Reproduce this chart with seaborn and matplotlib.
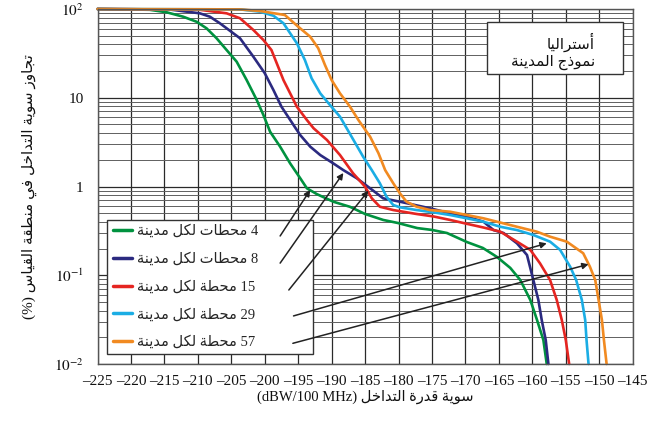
import numpy as np
import pandas as pd
import matplotlib
matplotlib.use("Agg")
import matplotlib.pyplot as plt
import seaborn as sns
from matplotlib.patches import Rectangle
from matplotlib.ticker import FixedLocator, FixedFormatter, MultipleLocator, LogLocator, NullFormatter

# ---------------- data ----------------
green_x = [-225, -217.2, -214.65, -212.2, -210.2, -208.7, -207.2, -205.7, -204.2, -202.7, -201.2, -200.2,
           -199.2, -197.7, -196.2, -194.7, -193.7, -192.2, -189.75, -187.25, -185.0, -182.3, -180.1, -177.2,
           -175.0, -172.75, -169.8, -167.4, -165.3, -163.3, -161.8, -160.3, -159.3, -158.35, -157.85]
green_y = [100, 98, 91.8, 81.9, 71.9, 60.6, 46.8, 34.5, 25.5, 15.8, 9.44, 6.39,
           4.14, 2.81, 1.82, 1.24, 0.954, 0.82, 0.674, 0.59, 0.49, 0.42, 0.388, 0.34,
           0.324, 0.299, 0.237, 0.203, 0.161, 0.121, 0.0883, 0.0526, 0.0313, 0.0186, 0.01]

navy_x = [-225, -214.2, -209.7, -208.2, -206.7, -203.7, -201.7, -200.0, -198.7, -197.5, -195.7, -194.7,
          -193.2, -191.7, -189.75, -188.25, -186.25, -184.25, -182.3, -179.8, -175.3, -172.3, -169.8,
          -167.3, -165.8, -164.3, -162.3, -160.8, -159.85, -159.1, -158.6, -158.0, -157.6]
navy_y = [100, 98.7, 89.4, 81.9, 69.0, 46.8, 29.0, 18.9, 12.2, 7.92, 4.93, 3.80,
          2.81, 2.26, 1.82, 1.53, 1.24, 0.954, 0.736, 0.674, 0.568, 0.499, 0.457,
          0.401, 0.323, 0.299, 0.229, 0.169, 0.0883, 0.0526, 0.0313, 0.0186, 0.01]

red_x = [-225, -209.7, -205.7, -203.7, -201.7, -200.2, -199.0, -198.2, -197.2, -196.2, -195.2, -193.7,
         -192.7, -190.7, -188.75, -186.8, -185.0, -184.0, -182.8, -180.8, -177.3, -174.8, -172.3, -169.8,
         -167.3, -164.8, -162.3, -160.3, -158.85, -157.35, -156.35, -155.6, -155.0, -154.5]
red_y = [100, 98, 89.4, 78.6, 58.0, 44.7, 34.5, 24.4, 15.8, 11.2, 7.92, 5.61,
         4.53, 3.34, 2.26, 1.41, 0.995, 0.736, 0.592, 0.543, 0.49, 0.46, 0.42, 0.38,
         0.345, 0.31, 0.239, 0.193, 0.136, 0.0883, 0.0526, 0.0313, 0.0186, 0.01]

cyan_x = [-225, -203.7, -200.7, -198.7, -197.2, -195.2, -194.0, -193.0, -191.7, -190.25, -188.75, -187.25,
          -185.3, -184.0, -182.8, -181.8, -180.8, -179.8, -177.3, -174.8, -172.3, -169.8, -167.3, -164.8,
          -162.3, -159.85, -157.35, -155.85, -154.35, -153.45, -152.6, -152.1, -151.9, -151.6]
cyan_y = [100, 99, 93.2, 84.0, 69.0, 41.1, 26.6, 16.6, 11.2, 8.28, 6.11, 3.9,
          2.17, 1.53, 1.09, 0.767, 0.619, 0.583, 0.543, 0.512, 0.477, 0.438, 0.401, 0.352,
          0.323, 0.284, 0.239, 0.193, 0.125, 0.0883, 0.0526, 0.0313, 0.0186, 0.01]

orange_x = [-225, -203.7, -200.7, -197.0, -195.0, -193.2, -192.0, -191.0, -190.0, -188.75, -187.25, -186.0,
            -184.25, -183.0, -182.0, -180.8, -179.8, -178.8, -177.3, -175.3, -172.3, -167.3, -162.3,
            -159.35, -157.35, -154.85, -152.4, -151.4, -150.6, -150.1, -149.6, -149.3, -148.9]
orange_y = [100, 99, 94.9, 85.6, 63.2, 48.7, 36.1, 23.4, 15.8, 11.2, 7.92, 5.61,
            3.64, 2.37, 1.53, 1.09, 0.838, 0.674, 0.592, 0.543, 0.520, 0.438, 0.352,
            0.310, 0.272, 0.239, 0.177, 0.125, 0.0883, 0.0526, 0.0313, 0.0186, 0.01]

series_labels = ["4 محطات لكل مدينة", "8 محطات لكل مدينة", "15 محطة لكل مدينة",
                 "29 محطة لكل مدينة", "57 محطة لكل مدينة"]
series_colors = ["#00923f", "#2b2a80", "#e52521", "#1badE4", "#f18a21"]

x_ticks = list(range(-225, -144, 5))
x_tick_labels = ["\u2013" + str(-v) for v in x_ticks]
y_ticks = [0.01, 0.1, 1, 10, 100]
y_tick_labels = ["$10^{-2}$", "$10^{-1}$", "1", "10", "$10^{2}$"]

# arrows: (start x, start y) -> (end x, end y) in data units
arrow_start_x = [-197.7, -197.7, -196.4, -195.7, -195.8]
arrow_start_y = [0.277, 0.137, 0.0682, 0.0348, 0.0171]
arrow_end_x = [-193.2, -188.25, -184.5, -157.85, -151.6]
arrow_end_y = [0.914, 1.42, 0.897, 0.229, 0.133]

box_line1 = "أستراليا"
box_line2 = "نموذج المدينة"
ylabel_text = "تجاوز سوية التداخل في منطقة القياس (%)"
xlabel_ar = "سوية قدرة التداخل"
xlabel_unit = "(dBW/100 MHz)"

# ---------------- Arabic shaping (presentation forms + visual order) ----------------
FORMS = {
    '\u0627': ('\uFE8D', '\uFE8E', None, None),
    '\u0623': ('\uFE83', '\uFE84', None, None),
    '\u0629': ('\uFE93', '\uFE94', None, None),
    '\u062A': ('\uFE95', '\uFE96', '\uFE97', '\uFE98'),
    '\u062C': ('\uFE9D', '\uFE9E', '\uFE9F', '\uFEA0'),
    '\u062D': ('\uFEA1', '\uFEA2', '\uFEA3', '\uFEA4'),
    '\u062E': ('\uFEA5', '\uFEA6', '\uFEA7', '\uFEA8'),
    '\u062F': ('\uFEA9', '\uFEAA', None, None),
    '\u0630': ('\uFEAB', '\uFEAC', None, None),
    '\u0631': ('\uFEAD', '\uFEAE', None, None),
    '\u0632': ('\uFEAF', '\uFEB0', None, None),
    '\u0633': ('\uFEB1', '\uFEB2', '\uFEB3', '\uFEB4'),
    '\u0637': ('\uFEC1', '\uFEC2', '\uFEC3', '\uFEC4'),
    '\u0641': ('\uFED1', '\uFED2', '\uFED3', '\uFED4'),
    '\u0642': ('\uFED5', '\uFED6', '\uFED7', '\uFED8'),
    '\u0643': ('\uFED9', '\uFEDA', '\uFEDB', '\uFEDC'),
    '\u0644': ('\uFEDD', '\uFEDE', '\uFEDF', '\uFEE0'),
    '\u0645': ('\uFEE1', '\uFEE2', '\uFEE3', '\uFEE4'),
    '\u0646': ('\uFEE5', '\uFEE6', '\uFEE7', '\uFEE8'),
    '\u0648': ('\uFEED', '\uFEEE', None, None),
    '\u064A': ('\uFEF1', '\uFEF2', '\uFEF3', '\uFEF4'),
}


def shape_word(w):
    out = []
    n = len(w)
    for i, c in enumerate(w):
        if c not in FORMS:
            out.append(c)
            continue
        iso, fin, ini, med = FORMS[c]
        prev = w[i - 1] if i > 0 else None
        nxt = w[i + 1] if i < n - 1 else None
        jp = prev in FORMS and FORMS[prev][2] is not None
        jn = (nxt in FORMS) and (ini is not None)
        if jp and jn:
            out.append(med)
        elif jp:
            out.append(fin)
        elif jn:
            out.append(ini)
        else:
            out.append(iso)
    return ''.join(out)


def rtl(text):
    toks = text.split(' ')
    vis = []
    for t in reversed(toks):
        if any(ch in FORMS for ch in t):
            vis.append(shape_word(t)[::-1])
        else:
            vis.append(t)
    return ' '.join(vis)


# ---------------- plotting ----------------
sns.set_theme(style="white")
plt.rcParams['font.family'] = ['Liberation Serif', 'DejaVu Sans']
plt.rcParams['mathtext.fontset'] = 'stix'

fig = plt.figure(figsize=(6.52, 4.24), dpi=100)
ax = fig.add_axes([97.5 / 652, (424 - 364) / 424, (632.7 - 97.5) / 652, (364 - 9) / 424])

xs_all = [green_x, navy_x, red_x, cyan_x, orange_x]
ys_all = [green_y, navy_y, red_y, cyan_y, orange_y]
frames = []
for lab, xs, ys in zip(series_labels, xs_all, ys_all):
    frames.append(pd.DataFrame({"x": xs, "y": ys, "series": lab}))
df = pd.concat(frames, ignore_index=True)

sns.lineplot(data=df, x="x", y="y", hue="series", palette=dict(zip(series_labels, series_colors)),
             hue_order=series_labels, sort=False, estimator=None, linewidth=1.9, legend=False, ax=ax)
for ln in ax.get_lines():
    ln.set_clip_on(False)
    ln.set_zorder(2.5)
    ln.set_solid_joinstyle('round')

ax.set_yscale('log')
ax.set_xlim(-225, -145)
ax.set_ylim(0.01, 100)

ax.xaxis.set_major_locator(FixedLocator(x_ticks))
ax.xaxis.set_major_formatter(FixedFormatter(x_tick_labels))
ax.xaxis.set_minor_locator(MultipleLocator(1))
ax.yaxis.set_major_locator(FixedLocator(y_ticks))
ax.yaxis.set_major_formatter(FixedFormatter(y_tick_labels))
ax.yaxis.set_minor_locator(LogLocator(base=10, subs=range(2, 10)))
ax.yaxis.set_minor_formatter(NullFormatter())

ax.grid(which='major', axis='both', color='#2a2a2a', linewidth=0.9)
ax.grid(which='minor', axis='y', color='#606060', linewidth=0.7)
ax.set_axisbelow(True)

ax.tick_params(axis='x', which='major', direction='in', length=3, width=0.8, color='#333',
               labelsize=11, pad=8, labelcolor='#111')
ax.tick_params(axis='x', which='minor', direction='in', length=2.2, width=0.8, color='#333')
ax.tick_params(axis='y', which='both', length=0, labelsize=11, pad=10, labelcolor='#111')
for sp in ax.spines.values():
    sp.set_color('#555555')
    sp.set_linewidth(1.0)

ax.set_ylabel(rtl(ylabel_text), fontsize=11, labelpad=12, color='#111')
ax.set_xlabel(xlabel_unit + " " + rtl(xlabel_ar), fontsize=10.5, labelpad=1, color='#111')

# legend box
ax.add_patch(Rectangle((0.0172, 0.028), 0.3855, 0.3775, transform=ax.transAxes,
                       facecolor='white', edgecolor='#333333', linewidth=1.0, zorder=4))
handles = ax.get_lines()[:5]
leg = ax.legend(handles, [rtl(s) for s in series_labels], loc='upper left',
                bbox_to_anchor=(0.02, 0.405), borderaxespad=0, frameon=False,
                fontsize=10.5, handlelength=1.3, handletextpad=0.4, labelspacing=0.97,
                borderpad=0.3)
leg.set_zorder(5)
for lh in leg.get_lines():
    lh.set_linewidth(2.5)

# arrows
for sx, sy, ex, ey in zip(arrow_start_x, arrow_start_y, arrow_end_x, arrow_end_y):
    ax.annotate("", xy=(ex, ey), xytext=(sx, sy),
                arrowprops=dict(arrowstyle='-|>', color='#222222', lw=1.1, mutation_scale=9,
                                shrinkA=0, shrinkB=0), zorder=6)

# title box
ax.add_patch(Rectangle((0.727, 0.817), 0.254, 0.147, transform=ax.transAxes,
                       facecolor='white', edgecolor='#333333', linewidth=1.0, zorder=4))
ax.text(0.930, 0.906, rtl(box_line1), transform=ax.transAxes, ha='right', va='center',
        fontsize=11, zorder=5, color='#111')
ax.text(0.930, 0.850, rtl(box_line2), transform=ax.transAxes, ha='right', va='center',
        fontsize=11, zorder=5, color='#111')

fig.savefig("out.png", dpi=100)
